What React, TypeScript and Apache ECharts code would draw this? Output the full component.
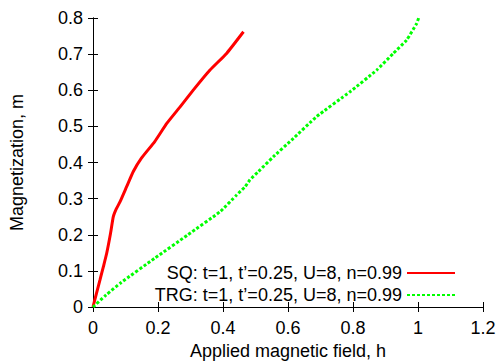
import React, { useEffect, useRef } from "react";
import * as echarts from "echarts";

const sqH = [0, 0.0107, 0.0215, 0.032, 0.042, 0.054, 0.0625, 0.072, 0.083, 0.1035, 0.124, 0.149, 0.19, 0.227, 0.268, 0.309, 0.36, 0.411, 0.463];
const sqM = [0, 0.038, 0.075, 0.112, 0.148, 0.204, 0.25, 0.272, 0.291, 0.333, 0.375, 0.412, 0.458, 0.508, 0.554, 0.601, 0.656, 0.702, 0.762];

const trgH = [0, 0.04, 0.087, 0.19, 0.292, 0.391, 0.442, 0.468, 0.483, 0.509, 0.555, 0.611, 0.688, 0.791, 0.873, 0.924, 0.965, 0.996, 1.002];
const trgM = [0, 0.033, 0.068, 0.135, 0.2, 0.264, 0.31, 0.333, 0.352, 0.375, 0.416, 0.462, 0.527, 0.596, 0.656, 0.702, 0.739, 0.785, 0.8];

const sqName = "SQ: t=1, t\u2019=0.25, U=8, n=0.99";
const trgName = "TRG: t=1, t\u2019=0.25, U=8, n=0.99";

const xTitle = "Applied magnetic field, h";
const yTitle = "Magnetization, m";

const FONT = "Liberation Sans, Arial, Helvetica, sans-serif";

export default function App() {
  const ref = useRef<HTMLDivElement>(null);
  useEffect(() => {
    document.body.style.margin = "0";
    const chart = echarts.init(ref.current!, null, { renderer: "svg" });
    const pair = (xs: number[], ys: number[]) => xs.map((x, i) => [x, ys[i]]);
    const axisCommon = {
      axisLine: { show: true, lineStyle: { color: "#000", width: 1 } },
      axisTick: { show: true, inside: true, length: 5, lineStyle: { color: "#000" } },
      splitLine: { show: false },
    };
    chart.setOption({
      animation: false,
      textStyle: { fontFamily: FONT },
      grid: { left: 93, right: 13, top: 18, bottom: 54, containLabel: false, outerBoundsMode: "none" },
      xAxis: [
        {
          type: "value", min: 0, max: 1.2, interval: 0.2, position: "bottom",
          ...axisCommon,
          axisLabel: { fontSize: 18, color: "#000", margin: 12, fontFamily: FONT },
          name: xTitle, nameLocation: "middle", nameGap: 34,
          nameTextStyle: { fontSize: 18, color: "#000", fontFamily: FONT },
        },
        {
          type: "value", min: 0, max: 1.2, interval: 0.2, position: "top",
          ...axisCommon, axisLabel: { show: false },
        },
      ],
      yAxis: [
        {
          type: "value", min: 0, max: 0.8, interval: 0.1, position: "left",
          ...axisCommon,
          axisLabel: { fontSize: 18, color: "#000", margin: 10, fontFamily: FONT },
          name: yTitle, nameLocation: "middle", nameGap: 67,
          nameTextStyle: { fontSize: 18, color: "#000", fontFamily: FONT },
        },
        {
          type: "value", min: 0, max: 0.8, interval: 0.1, position: "right",
          ...axisCommon, axisLabel: { show: false },
        },
      ],
      legend: {
        orient: "vertical",
        align: "right",
        right: 35,
        top: 259,
        itemWidth: 48,
        itemHeight: 14,
        itemGap: 4,
        selectedMode: false,
        itemStyle: { color: "transparent", borderColor: "transparent", borderWidth: 0, opacity: 0 },
        textStyle: { fontSize: 18, color: "#000", fontFamily: FONT },
        data: [{ name: sqName }, { name: trgName }],
      },
      series: [
        {
          name: sqName, type: "line", data: pair(sqH, sqM), symbol: "none", showSymbol: false, smooth: 0.15,
          lineStyle: { color: "#ff0000", width: 3 }, itemStyle: { color: "#ff0000" },
        },
        {
          name: trgName, type: "line", data: pair(trgH, trgM), symbol: "none", showSymbol: false, smooth: 0.15,
          lineStyle: { color: "#00ff00", width: 3, type: [3, 2] }, itemStyle: { color: "#00ff00" },
        },
      ],
    });
    return () => chart.dispose();
  }, []);
  return <div ref={ref} style={{ width: 496, height: 361 }} />;
}
